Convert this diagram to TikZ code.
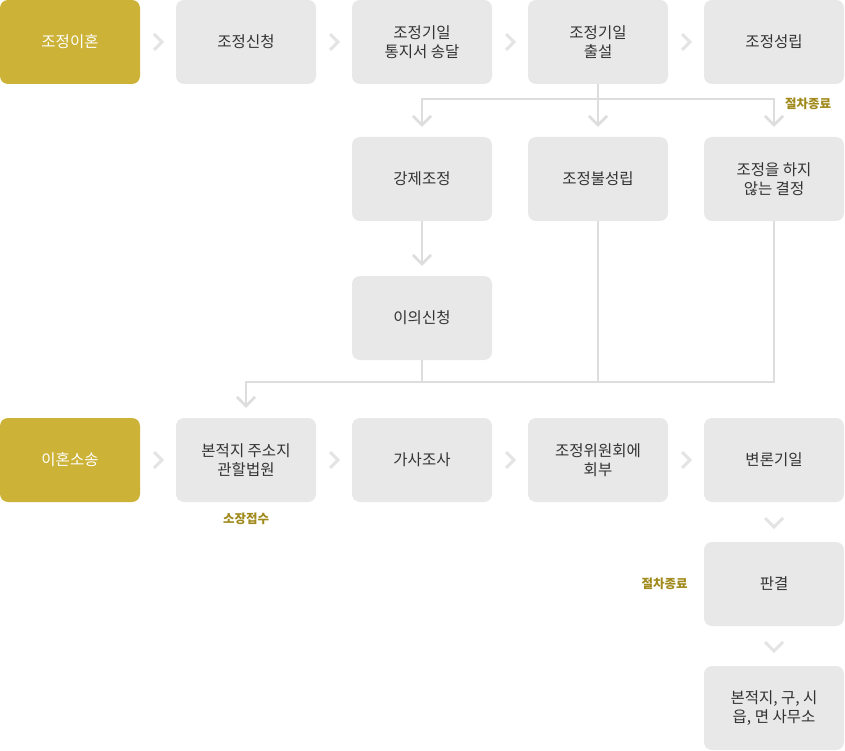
\documentclass[tikz,border=0pt]{standalone}
\usepackage{fontspec}
\setmainfont{Noto Sans CJK KR}
\usetikzlibrary{positioning,arrows.meta,calc}

\definecolor{boxgray}{HTML}{E8E8E8}
\definecolor{boxgold}{HTML}{CCB236}
\definecolor{linegray}{HTML}{DDDDDD}
\definecolor{chevgray}{HTML}{E4E4E4}
\definecolor{notegold}{HTML}{A08A1C}
\definecolor{textgray}{HTML}{333333}

\tikzset{
	stage/.style={draw=none, fill=boxgray, rectangle, rounded corners=8pt, minimum width=140pt, minimum height=84pt, inner sep=0pt, align=center, text=textgray, font=\fontsize{15.5}{19}\selectfont},
	start/.style={stage, fill=boxgold, text=white},
	note/.style={text=notegold, font=\bfseries\fontsize{12.5}{14}\selectfont, inner sep=0pt},
	link/.style={linegray, line width=2pt},
	flowarrow/.style={link, -{Straight Barb[length=9pt, width=18pt, line width=2.6pt]}},
	chevron/.style={chevgray, line width=3pt}
}

\begin{document}
\begin{tikzpicture}[x=1pt, y=-1pt]
			\useasboundingbox (0,0) rectangle (845,751);

			% first row
			\node (a1) [start] at (70,42) {조정이혼};
			\node (a2) [stage] at (246,42) {조정신청};
			\node (a3) [stage] at (422,42) {조정기일\\통지서 송달};
			\node (a4) [stage] at (598,42) {조정기일\\출설};
			\node (a5) [stage] at (774,42) {조정성립};

			\node (b1) [stage] at (422,179) {강제조정};
			\node (b2) [stage] at (598,179) {조정불성립};
			\node (b3) [stage] at (774,179) {조정을 하지\\않는 결정};

			\node (c1) [stage] at (422,318) {이의신청};

			% second row
			\node (d1) [start] at (70,460) {이혼소송};
			\node (d2) [stage, label={[note, label distance=11pt]below:소장접수}] at (246,460) {본적지 주소지\\관할법원};
			\node (d3) [stage] at (422,460) {가사조사};
			\node (d4) [stage] at (598,460) {조정위원회에\\회부};
			\node (d5) [stage] at (774,460) {변론기일};

			\node (e1) [stage, label={[note, label distance=16pt]left:절차종료}] at (774,584) {판결};
			\node (f1) [stage] at (774,708) {본적지, 구, 시\\읍, 면 사무소};

			\node (end1) [note] at (808,104) {절차종료};

			% chevrons between boxes
			\foreach \l/\r in {a1/a2, a2/a3, a3/a4, a4/a5, d1/d2, d2/d3, d3/d4, d4/d5}
				\draw[chevron] ($(\l.east)!0.5!(\r.west)$) ++(-4,-8) -- ++(8,8) -- ++(-8,8);
			\foreach \t/\b in {d5/e1, e1/f1}
				\draw[chevron] ($(\t.south)!0.5!(\b.north)$) ++(-9,-4) -- ++(9,9) -- ++(9,-9);

			% connectors
			\draw[flowarrow] (a4.south) -- ([yshift=10pt]b2.north);
			\draw[flowarrow] (a4.south) ++(0,15) -| ([yshift=10pt]b1.north);
			\draw[flowarrow] (a4.south) ++(0,15) -| ([yshift=10pt]b3.north);
			\draw[flowarrow] (b1.south) -- ([yshift=10pt]c1.north);

			\coordinate (merge) at ([yshift=-22pt]c1.south);
			\draw[link] (b2.south) -- (b2.south |- merge);
			\draw[link] (b3.south) |- (merge);
			\draw[flowarrow] (c1.south) -- (merge) -| ([yshift=10pt]d2.north);
		\end{tikzpicture}
\end{document}
